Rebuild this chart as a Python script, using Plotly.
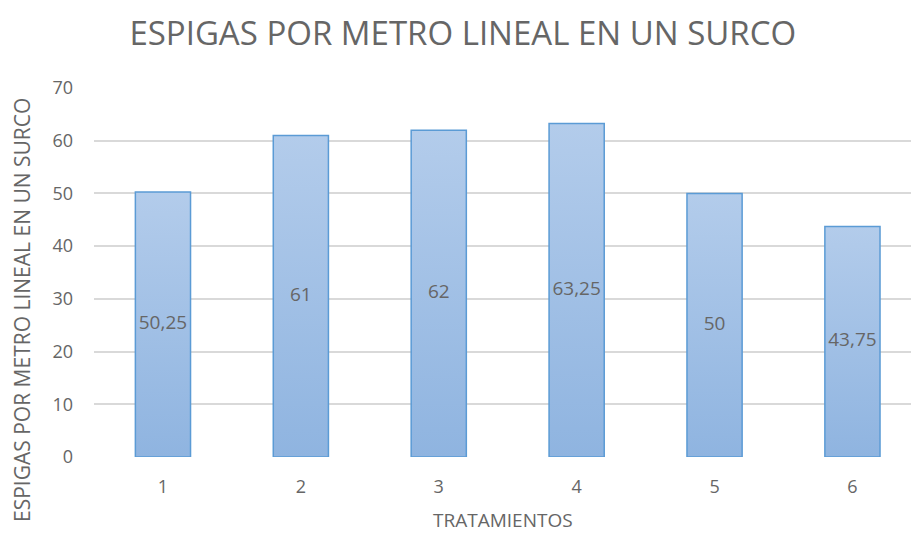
import plotly.graph_objects as go

# Datos: espigas por metro lineal en un surco, por tratamiento
tratamientos = [1, 2, 3, 4, 5, 6]
espigas = [50.25, 61, 62, 63.25, 50, 43.75]
y_ticks = [0, 10, 20, 30, 40, 50, 60, 70]

BAR_WIDTH = 0.4
TOP_COLOR = "#b3cceb"
BOTTOM_COLOR = "#8fb4e0"
EDGE_COLOR = "#5b9bd5"
TEXT_GRAY = "#666666"
FONT = "Open Sans"

# Plot-area geometry in pixels
L, R, T, B = 94, 0, 88, 77
W, H = 911, 534
PW, PH = W - L - R, H - T - B

fig = go.Figure()

# Each bar is a filled polygon so it can carry a vertical gradient
for t, v in zip(tratamientos, espigas):
    x0, x1 = t - BAR_WIDTH / 2, t + BAR_WIDTH / 2
    fig.add_trace(go.Scatter(
        x=[x0, x0, x1, x1, x0],
        y=[0, v, v, 0, 0],
        mode="lines",
        fill="toself",
        fillgradient=dict(
            type="vertical",
            start=0,
            stop=v,
            colorscale=[[0, BOTTOM_COLOR], [1, TOP_COLOR]],
        ),
        line=dict(color=EDGE_COLOR, width=1.5),
        hoverinfo="skip",
        showlegend=False,
    ))

# Value labels centred inside each bar (decimal comma)
fig.add_trace(go.Scatter(
    x=tratamientos,
    y=[v / 2 for v in espigas],
    mode="text",
    text=[f"{v:g}".replace(".", ",") for v in espigas],
    textposition="middle center",
    textfont=dict(family=FONT, size=19, color=TEXT_GRAY),
    hoverinfo="skip",
    showlegend=False,
))

fig.update_layout(
    width=W,
    height=H,
    margin=dict(l=L, r=R, t=T, b=B),
    paper_bgcolor="white",
    plot_bgcolor="white",
    font=dict(family=FONT, color=TEXT_GRAY),
    title=dict(
        text="ESPIGAS POR METRO LINEAL EN UN SURCO",
        x=0.508, xanchor="center",
        y=0.938, yanchor="middle",
        font=dict(family=FONT, size=33, color=TEXT_GRAY),
    ),
    xaxis=dict(
        range=[0.5, 0.5 + PW / 137.9],
        tickvals=tratamientos,
        ticktext=[str(t) for t in tratamientos],
        showgrid=False,
        zeroline=False,
        showline=False,
        ticks="",
        ticklabelstandoff=17,
        tickfont=dict(family=FONT, size=18, color=TEXT_GRAY),
    ),
    yaxis=dict(
        range=[0, 70],
        tickvals=y_ticks,
        showgrid=True,
        gridcolor="#d9d9d9",
        gridwidth=1.5,
        zeroline=False,
        showline=False,
        ticks="",
        ticklabelstandoff=20,
        tickfont=dict(family=FONT, size=18, color=TEXT_GRAY),
    ),
    annotations=[
        dict(
            text="TRATAMIENTOS",
            xref="paper", yref="paper",
            x=(503 - L) / PW, y=(H - B - 520) / PH,
            xanchor="center", yanchor="middle",
            showarrow=False,
            font=dict(family=FONT, size=19, color=TEXT_GRAY),
        ),
        dict(
            text="ESPIGAS POR METRO LINEAL EN UN SURCO",
            xref="paper", yref="paper",
            x=(22 - L) / PW, y=(H - B - 310) / PH,
            xanchor="center", yanchor="middle",
            textangle=-90,
            showarrow=False,
            font=dict(family=FONT, size=21, color=TEXT_GRAY),
        ),
    ],
)

fig.write_html("out.html")
